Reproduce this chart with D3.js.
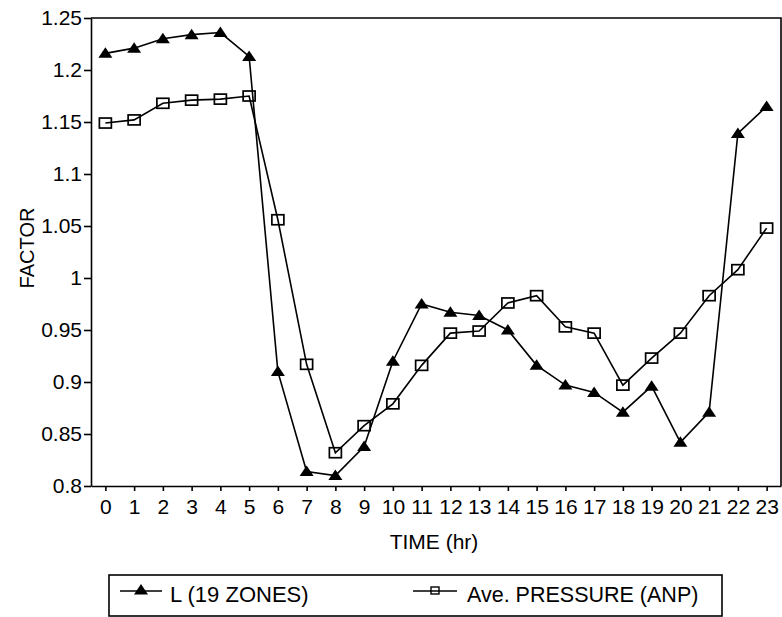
<!DOCTYPE html>
<html>
<head>
<meta charset="utf-8">
<script src="https://cdn.jsdelivr.net/npm/d3@7"></script>
<style>
  body { margin: 0; background: #fff; }
  svg { display: block; font-family: "Liberation Sans", Arial, sans-serif; }
  .axis path, .axis line { stroke: #000; stroke-width: 1.6; }
  .axis text { font-size: 21px; fill: #000; }
</style>
</head>
<body>
<div id="chart"></div>
<script>
// hours of the day
const hours = [0, 1, 2, 3, 4, 5, 6, 7, 8, 9, 10, 11, 12, 13, 14, 15, 16, 17, 18, 19, 20, 21, 22, 23];

// L (19 ZONES)
const zonesL = [1.216, 1.221, 1.230, 1.234, 1.236, 1.213, 0.910, 0.814, 0.810, 0.838, 0.920, 0.975,
                0.967, 0.964, 0.950, 0.916, 0.897, 0.890, 0.871, 0.896, 0.842, 0.871, 1.139, 1.165];

// Ave. PRESSURE (ANP)
const anp = [1.149, 1.152, 1.168, 1.171, 1.172, 1.175, 1.056, 0.917, 0.832, 0.858, 0.879, 0.916,
             0.947, 0.949, 0.976, 0.983, 0.953, 0.947, 0.897, 0.923, 0.947, 0.983, 1.008, 1.048];

const yTicks = [0.8, 0.85, 0.9, 0.95, 1, 1.05, 1.1, 1.15, 1.2, 1.25];
const seriesNames = ['L (19 ZONES)', 'Ave. PRESSURE (ANP)'];

const W = 782, H = 617;
const margin = { top: 18, right: 1, bottom: 131, left: 91 };
const width = W - margin.left - margin.right;
const height = H - margin.top - margin.bottom;

const svg = d3.select('#chart').append('svg')
  .attr('width', W)
  .attr('height', H);

const x = d3.scalePoint().domain(hours).range([margin.left, margin.left + width]).padding(0.5);
const y = d3.scaleLinear().domain([0.8, 1.25]).range([margin.top + height, margin.top]);

// axes
svg.append('g')
  .attr('class', 'axis')
  .attr('transform', `translate(0,${margin.top + height})`)
  .call(d3.axisBottom(x).tickSizeInner(5).tickSizeOuter(0).tickPadding(8))
  .call(g => g.selectAll('text').attr('dy', '0.71em'));

svg.append('g')
  .attr('class', 'axis')
  .attr('transform', `translate(${margin.left},0)`)
  .call(d3.axisLeft(y).tickValues(yTicks).tickFormat(d3.format('')).tickSizeInner(7).tickSizeOuter(0).tickPadding(2));

// top and right frame
svg.append('path')
  .attr('d', `M${margin.left},${margin.top}H${margin.left + width}V${margin.top + height}`)
  .attr('fill', 'none')
  .attr('stroke', '#000')
  .attr('stroke-width', 1.6);

// axis titles
svg.append('text')
  .attr('x', margin.left + width / 2 - 2)
  .attr('y', 549)
  .attr('text-anchor', 'middle')
  .style('font-size', '21px')
  .text('TIME (hr)');

svg.append('text')
  .attr('transform', `translate(34,${margin.top + height / 2 - 4}) rotate(-90)`)
  .attr('text-anchor', 'middle')
  .style('font-size', '20px')
  .text('FACTOR');

const line = d3.line().x((d, i) => x(hours[i])).y(d => y(d));
const tri = 'M0,-6L7,4.5L-7,4.5Z';

// L series
svg.append('path')
  .datum(zonesL)
  .attr('d', line)
  .attr('fill', 'none')
  .attr('stroke', '#000')
  .attr('stroke-width', 1.6);

svg.selectAll('.tri')
  .data(zonesL)
  .enter()
  .append('path')
  .attr('class', 'tri')
  .attr('d', tri)
  .attr('transform', (d, i) => `translate(${x(hours[i])},${y(d)})`)
  .attr('fill', '#000');

// ANP series
svg.append('path')
  .datum(anp)
  .attr('d', line)
  .attr('fill', 'none')
  .attr('stroke', '#000')
  .attr('stroke-width', 1.6);

svg.selectAll('.sq')
  .data(anp)
  .enter()
  .append('rect')
  .attr('class', 'sq')
  .attr('x', (d, i) => x(hours[i]) - 6)
  .attr('y', d => y(d) - 5)
  .attr('width', 12)
  .attr('height', 10)
  .attr('fill', 'none')
  .attr('stroke', '#000')
  .attr('stroke-width', 1.7);

// legend
const legend = svg.append('g');
legend.append('rect')
  .attr('x', 109).attr('y', 575)
  .attr('width', 613).attr('height', 41)
  .attr('fill', 'none')
  .attr('stroke', '#000')
  .attr('stroke-width', 1.6);

legend.append('line')
  .attr('x1', 120).attr('x2', 162).attr('y1', 591).attr('y2', 591)
  .attr('stroke', '#000').attr('stroke-width', 1.6);
legend.append('path')
  .attr('d', tri)
  .attr('transform', 'translate(141,590)')
  .attr('fill', '#000');
legend.append('text')
  .attr('x', 170).attr('y', 602)
  .style('font-size', '22px')
  .text(seriesNames[0]);

legend.append('line')
  .attr('x1', 413).attr('x2', 457).attr('y1', 591).attr('y2', 591)
  .attr('stroke', '#000').attr('stroke-width', 1.6);
legend.append('rect')
  .attr('x', 431).attr('y', 587)
  .attr('width', 8).attr('height', 7)
  .attr('fill', 'none')
  .attr('stroke', '#000').attr('stroke-width', 1.4);
legend.append('text')
  .attr('x', 467).attr('y', 602)
  .style('font-size', '21.5px')
  .text(seriesNames[1]);
</script>
</body>
</html>
